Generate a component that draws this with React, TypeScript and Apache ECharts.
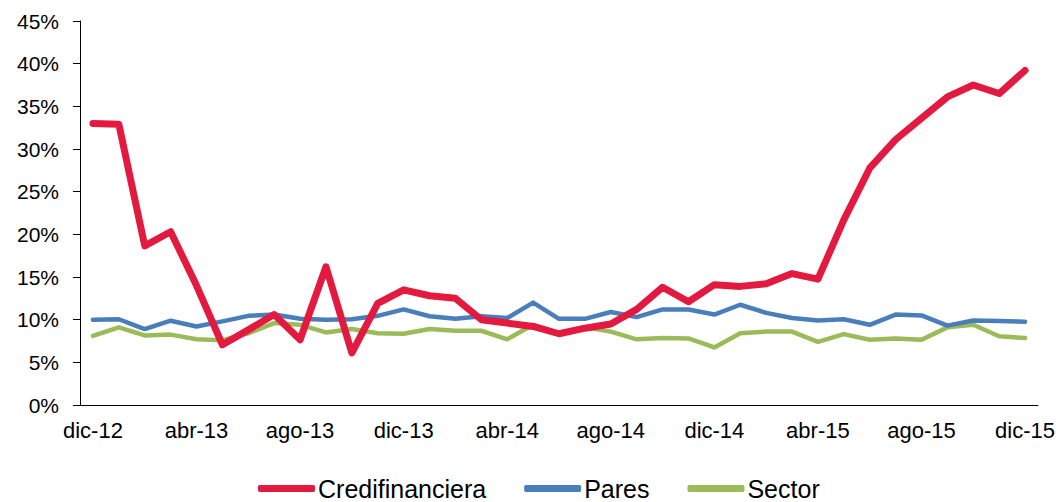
import React, { useEffect, useRef } from "react";
import * as echarts from "echarts";

const months = ["ene", "feb", "mar", "abr", "may", "jun", "jul", "ago", "sep", "oct", "nov", "dic"];
const categories: string[] = ["dic-12"];
for (const y of ["13", "14", "15"]) for (const m of months) categories.push(`${m}-${y}`);

const credifinanciera = [
  33.0, 32.9, 18.65, 20.3, 14.0, 7.06, 8.8, 10.6, 7.65, 16.2, 6.1, 11.9, 13.5,
  12.8, 12.5, 10.0, 9.6, 9.2, 8.35, 9.0, 9.5, 11.2, 13.8, 12.1, 14.1, 13.9,
  14.2, 15.4, 14.75, 21.7, 27.75, 31.1, 33.6, 36.1, 37.5, 36.5, 39.2,
];
const pares = [
  10.0, 10.05, 8.9, 9.88, 9.2, 9.8, 10.45, 10.6, 10.1, 10.0, 10.05, 10.45, 11.2,
  10.4, 10.1, 10.4, 10.2, 12.0, 10.1, 10.1, 10.9, 10.3, 11.2, 11.2, 10.6, 11.75,
  10.8, 10.2, 9.9, 10.05, 9.4, 10.6, 10.5, 9.3, 9.9, 9.85, 9.75,
];
const sector = [
  8.1, 9.1, 8.15, 8.25, 7.7, 7.6, 8.4, 9.6, 9.4, 8.5, 8.9, 8.4, 8.35, 8.9, 8.7,
  8.7, 7.7, 9.4, 8.4, 9.1, 8.6, 7.7, 7.85, 7.8, 6.75, 8.4, 8.6, 8.6, 7.4, 8.3,
  7.65, 7.8, 7.65, 9.1, 9.4, 8.05, 7.85,
];
const yTicks = [0, 5, 10, 15, 20, 25, 30, 35, 40, 45];

const FONT = "Liberation Sans, Arial, sans-serif";

export default function App() {
  const ref = useRef<HTMLDivElement>(null);
  useEffect(() => {
    if (!ref.current) return;
    const chart = echarts.init(ref.current, undefined, { renderer: "svg" });
    chart.setOption({
      animation: false,
      backgroundColor: "#ffffff",
      grid: { left: 80, right: 22, top: 21, bottom: 97, containLabel: false },
      legend: {
        left: 258,
        top: 476,
        padding: 0,
        itemGap: 38,
        itemWidth: 57,
        itemHeight: 7,
        icon: "roundRect",
        textStyle: { fontFamily: FONT, fontSize: 25, lineHeight: 25, color: "#000", padding: [0, 0, 0, -2] },
        data: ["Credifinanciera", "Pares", "Sector"],
      },
      xAxis: {
        type: "category",
        data: categories,
        boundaryGap: true,
        axisLine: { lineStyle: { color: "#000", width: 1 } },
        axisTick: { interval: 3, length: 7, lineStyle: { color: "#000" } },
        axisLabel: {
          interval: 3,
          margin: 14,
          fontFamily: FONT,
          fontSize: 22,
          color: "#000",
        },
        splitLine: { show: false },
      },
      yAxis: {
        type: "value",
        min: yTicks[0],
        max: yTicks[yTicks.length - 1],
        interval: 5,
        axisLine: { show: true, lineStyle: { color: "#000", width: 1 } },
        axisTick: { show: true, length: 7, lineStyle: { color: "#000" } },
        axisLabel: {
          margin: 21,
          fontFamily: FONT,
          fontSize: 21,
          color: "#000",
          formatter: (v: number) => `${v}%`,
        },
        splitLine: { show: false },
      },
      series: [
        {
          name: "Credifinanciera",
          type: "line",
          data: credifinanciera,
          symbol: "none",
          color: "#E3193F",
          lineStyle: { width: 7, color: "#E3193F", cap: "round", join: "round" },
          z: 3,
        },
        {
          name: "Pares",
          type: "line",
          data: pares,
          symbol: "none",
          color: "#4A7EBB",
          lineStyle: { width: 4.5, color: "#4A7EBB", cap: "round", join: "round" },
          z: 2,
        },
        {
          name: "Sector",
          type: "line",
          data: sector,
          symbol: "none",
          color: "#9BBB59",
          lineStyle: { width: 4.5, color: "#9BBB59", cap: "round", join: "round" },
          z: 1,
        },
      ],
    });
    return () => chart.dispose();
  }, []);
  return (
    <div
      ref={ref}
      style={{ position: "fixed", left: 0, top: 0, width: 1060, height: 502 }}
    />
  );
}
